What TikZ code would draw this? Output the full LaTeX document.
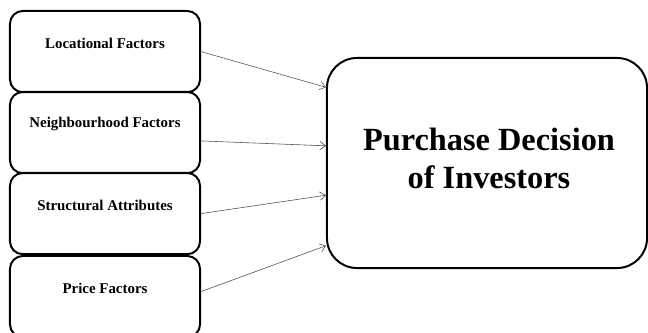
\documentclass[tikz,border=0pt]{standalone}
\usepackage{fontspec}
\setmainfont{Liberation Serif}
\usetikzlibrary{arrows.meta, calc}

\begin{document}
\begin{tikzpicture}[x=0.025cm, y=-0.025cm, >={Straight Barb[length=4pt, width=6pt]},
    factor/.style={draw, line width=1.4pt, rounded corners=0.32cm,
        minimum width=4.75cm, minimum height=2.03cm, inner sep=0pt, anchor=north},
    factortext/.style={font=\bfseries\fontsize{10.6}{12}\selectfont},
    decision/.style={draw, line width=1.4pt, rounded corners=0.75cm,
        minimum width=8cm, minimum height=5.25cm, align=center,
        font=\bfseries\fontsize{23}{27}\selectfont},
    link/.style={->, black!70, line width=0.4pt}]

    \useasboundingbox (0,0) rectangle (648,333);

    % Faktoren (links)
    \node[factor] (loc)   at (105,10)  {};
    \node[factor] (nbh)   at (105,91)  {};
    \node[factor] (str)   at (105,172) {};
    \node[factor] (price) at (105,255) {};

    \node[factortext] (loctxt)   at ([yshift=-0.83cm]loc.north)   {Locational Factors};
    \node[factortext] (nbhtxt)   at ([yshift=-0.83cm]nbh.north)   {Neighbourhood Factors};
    \node[factortext] (strtxt)   at ([yshift=-0.83cm]str.north)   {Structural Attributes};
    \node[factortext] (pricetxt) at ([yshift=-0.83cm]price.north) {Price Factors};

    % Entscheidung (rechts)
    \node[decision] (pdi) at (487,163) {};
    \node[decision, draw=none, minimum width=0pt, minimum height=0pt]
        (pditxt) at (489,158) {Purchase Decision\\of Investors};

    % Pfeile
    \draw[link] (loc.east) -- ($(pdi.north west)!0.143!(pdi.south west)$);
    \draw[link] ($(nbh.north east)!0.6!(nbh.south east)$)
        -- ($(pdi.north west)!0.419!(pdi.south west)$);
    \draw[link] (str.east) -- ($(pdi.north west)!0.652!(pdi.south west)$);
    \draw[link] ($(price.north east)!0.44!(price.south east)$)
        -- ($(pdi.north west)!0.89!(pdi.south west)$);
\end{tikzpicture}
\end{document}
